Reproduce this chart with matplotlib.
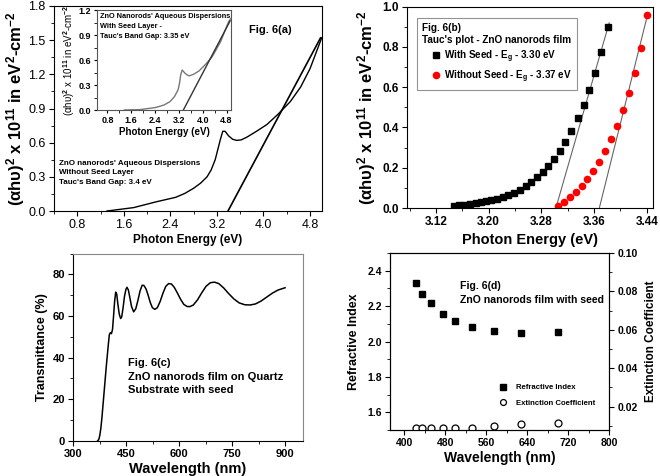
import matplotlib
matplotlib.use("Agg")
import matplotlib.pyplot as plt
from matplotlib.ticker import MultipleLocator, AutoMinorLocator

plt.rcParams['font.family'] = ['Liberation Sans', 'DejaVu Sans']
plt.rcParams['mathtext.fontset'] = 'custom'
plt.rcParams['mathtext.rm'] = 'Liberation Sans'
plt.rcParams['mathtext.bf'] = 'Liberation Sans:bold'
plt.rcParams['mathtext.it'] = 'Liberation Sans:italic'
plt.rcParams['xtick.direction'] = 'out'
plt.rcParams['ytick.direction'] = 'out'

# ---- Fig 6(a): Tauc plot of aqueous dispersion, without seed
a_energy = [1.31, 1.77, 2.15, 2.49, 2.65, 2.80, 2.92, 3.03, 3.10, 3.17, 3.22, 3.26,
            3.30, 3.34, 3.40, 3.47, 3.54, 3.62, 3.72, 3.88, 4.06, 4.25, 4.46, 4.64,
            4.80, 5.00]
a_abs = [0.0, 0.03, 0.08, 0.12, 0.155, 0.20, 0.245, 0.30, 0.36, 0.45, 0.55, 0.63,
         0.70, 0.70, 0.66, 0.63, 0.62, 0.625, 0.65, 0.70, 0.76, 0.85, 0.96, 1.09,
         1.25, 1.52]
a_fit_x = [3.39, 4.98]
a_fit_y = [0.0, 1.52]

# inset: with seed layer
in_energy = [1.37, 1.90, 2.42, 2.70, 2.90, 3.05, 3.17, 3.22, 3.26, 3.31, 3.36,
             3.41, 3.48, 3.55, 3.70, 3.88, 4.10, 4.32, 4.60, 4.87, 4.95]
in_abs = [0.0, 0.005, 0.03, 0.06, 0.10, 0.16, 0.24, 0.32, 0.42, 0.48, 0.46,
          0.44, 0.42, 0.41, 0.43, 0.47, 0.55, 0.64, 0.82, 1.06, 1.10]
in_fit_x = [3.35, 4.92]
in_fit_y = [0.0, 1.07]

# ---- Fig 6(b): Tauc plot of films
b_seed_x = [3.148, 3.155, 3.163, 3.172, 3.180, 3.188, 3.196, 3.204, 3.213, 3.221,
            3.230, 3.238, 3.247, 3.256, 3.264, 3.273, 3.282, 3.290, 3.299, 3.308,
            3.316, 3.325, 3.335, 3.344, 3.353, 3.362, 3.371, 3.381]
b_seed_y = [0.010, 0.013, 0.017, 0.020, 0.024, 0.028, 0.033, 0.039, 0.046, 0.054,
            0.064, 0.076, 0.091, 0.109, 0.130, 0.153, 0.180, 0.210, 0.245, 0.285,
            0.330, 0.385, 0.445, 0.510, 0.585, 0.672, 0.775, 0.898]
b_noseed_x = [3.306, 3.315, 3.323, 3.332, 3.341, 3.349, 3.359, 3.367, 3.377, 3.386,
              3.395, 3.404, 3.413, 3.422, 3.431, 3.441]
b_noseed_y = [0.008, 0.030, 0.055, 0.080, 0.107, 0.143, 0.183, 0.228, 0.284, 0.344,
              0.408, 0.487, 0.570, 0.673, 0.797, 0.960]
b_fit_seed_x = [3.302, 3.383]
b_fit_seed_y = [0.0, 0.92]
b_fit_noseed_x = [3.368, 3.442]
b_fit_noseed_y = [0.0, 0.97]

# ---- Fig 6(c): transmittance
c_wl = [369, 372, 375, 378, 381, 384, 387, 390, 393, 396, 399, 402, 405, 408, 411,
        414, 417, 420, 423, 426, 430, 434, 437, 441, 445, 449, 452, 456, 460, 465,
        471, 477, 483, 489, 495, 500, 506, 512, 518, 524, 531, 538, 546, 554, 562,
        570, 578, 586, 595, 604, 613, 622, 630, 640, 652, 664, 676, 688, 700, 712,
        726, 740, 755, 770, 786, 801, 816, 832, 848, 864, 880, 900]
c_trans = [0, 0.5, 2.5, 6, 11, 17, 23, 29, 35, 40.5, 46, 51, 52, 51.5, 53.5,
           60, 67, 71.5, 70.5, 66, 61, 58.8, 59.5, 64, 69.5, 72.8, 73.8, 72.5, 69, 64.5,
           62, 63.5, 67.5, 72, 74.8, 74.7, 73, 70, 66.5, 64, 63.2, 64, 67, 71, 74.3,
           75.6, 75.4, 73.8, 71, 68, 65.6, 64.6, 64.5, 65.3, 67.8, 71.2, 74.3, 76, 76.3, 75.6,
           73.5, 70.8, 68.2, 66.3, 65.4, 65.3, 65.8, 67.2, 69.1, 71, 72.5, 73.6]

# ---- Fig 6(d): optical constants
d_wl = [422, 435, 453, 475, 500, 533, 575, 629, 701]
d_n = [2.332, 2.268, 2.215, 2.158, 2.118, 2.081, 2.057, 2.047, 2.053]
d_k = [0.0088, 0.0087, 0.0086, 0.0086, 0.0087, 0.0091, 0.0098, 0.0107, 0.0116]

fig = plt.figure(figsize=(6.6, 4.76), dpi=100)

def tickstyle(ax, size, bold):
    ax.tick_params(which='major', length=3.5, width=0.8, labelsize=size, pad=2.5)
    ax.tick_params(which='minor', length=2, width=0.6)
    ax.xaxis.set_minor_locator(AutoMinorLocator(2))
    ax.yaxis.set_minor_locator(AutoMinorLocator(2))
    if bold:
        for lb in ax.get_xticklabels() + ax.get_yticklabels():
            lb.set_fontweight('bold')

tauc_label = r"(αhυ)$^{\mathbf{2}}$ x 10$^{\mathbf{11}}$ in eV$^{\mathbf{2}}$-cm$^{\mathbf{-2}}$"

# (a)
ax1 = fig.add_axes([0.0818, 0.5567, 0.4056, 0.4307])
ax1.plot(a_energy, a_abs, color='black', lw=1.0)
ax1.plot(a_fit_x, a_fit_y, color='black', lw=1.2)
ax1.set_xlim(0.4, 5.0)
ax1.set_ylim(0, 1.8)
ax1.set_xticks([0.8, 1.6, 2.4, 3.2, 4.0, 4.8])
ax1.yaxis.set_major_locator(MultipleLocator(0.3))
tickstyle(ax1, 9, False)
ax1.set_xlabel("Photon Energy (eV)", fontsize=8.5, fontweight='bold', labelpad=2)
ax1.set_ylabel(tauc_label, fontsize=12, fontweight='bold', labelpad=1)
ax1.text(0.73, 0.87, "Fig. 6(a)", transform=ax1.transAxes, fontsize=8, fontweight='bold')
ax1.text(0.02, 0.25, "ZnO nanorods' Aqueous Dispersions\nWithout Seed Layer\nTauc's Band Gap: 3.4 eV",
         transform=ax1.transAxes, fontsize=5.8, fontweight='bold', va='top', linespacing=1.5)

ins = fig.add_axes([0.147, 0.7689, 0.203, 0.210])
ins.plot(in_energy, in_abs, color='#777777', lw=1.0)
ins.plot(in_fit_x, in_fit_y, color='#333333', lw=1.0)
ins.set_xlim(0.45, 4.95)
ins.set_ylim(0, 1.2)
ins.set_xticks([0.8, 1.6, 2.4, 3.2, 4.0, 4.8])
ins.yaxis.set_major_locator(MultipleLocator(0.3))
tickstyle(ins, 6.5, True)
ins.tick_params(which='major', length=2.5, pad=2)
ins.set_xlabel("Photon Energy (eV)", fontsize=7, fontweight='bold', labelpad=1)
ins.set_ylabel(tauc_label, fontsize=7, labelpad=1)
ins.text(0.02, 0.97, "ZnO Nanorods' Aqueous Dispersions\nWith Seed Layer -\nTauc's Band Gap: 3.35 eV",
         transform=ins.transAxes, fontsize=5.3, fontweight='bold', va='top', linespacing=1.6)
for sp in ins.spines.values():
    sp.set_color('#555555')

# (b)
ax2 = fig.add_axes([0.6167, 0.563, 0.3732, 0.4229])
ax2.plot(b_fit_seed_x, b_fit_seed_y, color='#666666', lw=0.8)
ax2.plot(b_fit_noseed_x, b_fit_noseed_y, color='#666666', lw=0.8)
ax2.plot(b_seed_x, b_seed_y, 's', color='black', ms=4.2, ls='none',
         label=r"With Seed - E$_{\mathbf{g}}$ - 3.30 eV")
ax2.plot(b_noseed_x, b_noseed_y, 'o', color='red', ms=4.5, ls='none',
         label=r"Without Seed - E$_{\mathbf{g}}$ - 3.37 eV")
ax2.set_xlim(3.076, 3.45)
ax2.set_ylim(0, 1.0)
ax2.set_xticks([3.12, 3.20, 3.28, 3.36, 3.44])
ax2.yaxis.set_major_locator(MultipleLocator(0.2))
tickstyle(ax2, 8.5, True)
ax2.set_xlabel("Photon Energy (eV)", fontsize=10.5, fontweight='bold', labelpad=3)
ax2.set_ylabel(tauc_label, fontsize=12, fontweight='bold', labelpad=3)
leg = ax2.legend(loc='upper left', bbox_to_anchor=(0.04, 0.945), borderaxespad=0,
                 title="Fig. 6(b)\nTauc's plot - ZnO nanorods film",
                 alignment='left', fancybox=False, edgecolor='#777777',
                 prop={'size': 7.1, 'weight': 'bold'}, handletextpad=-0.6,
                 labelspacing=0.35, borderpad=0.55, handlelength=2.8)
leg.get_title().set_fontsize(7.2)
leg.get_title().set_fontweight('bold')
leg.get_frame().set_linewidth(0.8)

# (c)
ax3 = fig.add_axes([0.1111, 0.0742, 0.3476, 0.3929])
ax3.plot(c_wl, c_trans, color='black', lw=1.1)
ax3.set_xlim(300, 950)
ax3.set_ylim(0, 90)
ax3.set_xticks([300, 450, 600, 750, 900])
ax3.yaxis.set_major_locator(MultipleLocator(20))
tickstyle(ax3, 8, True)
ax3.set_xlabel("Wavelength (nm)", fontsize=10.5, fontweight='bold', labelpad=2)
ax3.set_ylabel("Transmittance (%)", fontsize=9, fontweight='bold', labelpad=3)
ax3.text(0.238, 0.44, "Fig. 6(c)\nZnO nanorods film on Quartz\nSubstrate with seed",
         transform=ax3.transAxes, fontsize=8, fontweight='bold', va='top', linespacing=1.4)
ax3.spines['top'].set_color('#888888')
ax3.spines['right'].set_color('#888888')

# (d)
ax4 = fig.add_axes([0.5909, 0.0966, 0.3318, 0.3718])
ax5 = ax4.twinx()
h1, = ax4.plot(d_wl, d_n, 's', color='black', ms=5, ls='none', label="Refractive Index")
h2, = ax5.plot(d_wl, d_k, 'o', mfc='white', mec='black', mew=0.9, ms=5, ls='none',
               label="Extinction Coefficient")
ax4.set_xlim(372, 800)
ax4.set_ylim(1.5, 2.5)
ax5.set_ylim(0.0078, 0.10)
ax4.set_xticks([400, 480, 560, 640, 720, 800])
ax4.yaxis.set_major_locator(MultipleLocator(0.2))
ax5.yaxis.set_major_locator(MultipleLocator(0.02))
tickstyle(ax4, 7.5, True)
tickstyle(ax5, 7.5, True)
ax4.set_xlabel("Wavelength (nm)", fontsize=10, fontweight='bold', labelpad=2)
ax4.set_ylabel("Refractive Index", fontsize=9, fontweight='bold', labelpad=5)
ax5.set_ylabel("Extinction Coefficient", fontsize=8.5, fontweight='bold', labelpad=5)
ax4.text(0.32, 0.84, "Fig. 6(d)\nZnO nanorods film with seed",
         transform=ax4.transAxes, fontsize=7.6, fontweight='bold', va='top', linespacing=1.4)
ax4.legend([h1, h2], ["Refractive Index", "Extinction Coefficient"], loc='upper left',
           bbox_to_anchor=(0.45, 0.30), frameon=False, prop={'size': 5.6, 'weight': 'bold'},
           handletextpad=0.6, labelspacing=1.0, markerscale=0.85)

fig.savefig("out.png", dpi=100)
